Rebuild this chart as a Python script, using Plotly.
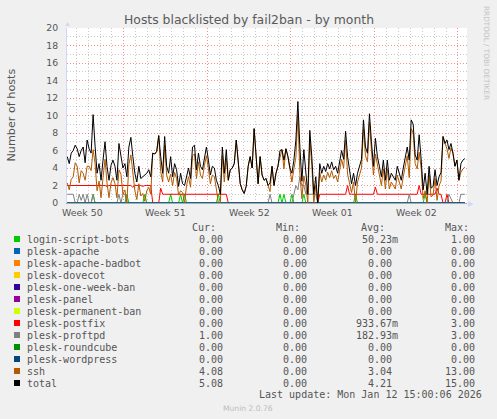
import pandas as pd
import plotly.graph_objects as go

# munin "by month" view of the fail2ban plugin, one sample every 4 hours
start = "2025-12-10 06:00"
step = "4h"

login_script_bots = [
    0, 0, 0, 0, 0, 0, 0, 0, 0, 0,
    0, 0, 0, 1, 0, 0, 0, 0, 0, 0,
    0, 0, 0, 0, 0, 0, 0, 0, 0, 0,
    1, 0, 0, 0, 0, 0, 0, 0, 0, 1,
    0, 0, 0, 0, 0, 0, 0, 0, 0, 0,
    0, 0, 1, 0, 0, 0, 0, 1, 0, 1,
    0, 0, 0, 0, 0, 0, 0, 0, 0, 0,
    0, 0, 0, 0, 0, 0, 1, 0, 0, 0,
    0, 0, 0, 0, 0, 0, 0, 0, 0, 0,
    0, 0, 0, 0, 0, 0, 0, 0, 0, 0,
    0, 0, 0, 0, 0, 0, 0, 1, 0, 1,
    0, 0, 0, 1, 0, 0, 0, 0, 0, 1,
    0, 0, 0, 0, 0, 0, 0, 0, 0, 0,
    0, 0, 0, 0, 0, 0, 0, 0, 0, 0,
    0, 0, 0, 0, 0, 1, 0, 0, 0, 0,
    0, 0, 0, 0, 0, 0, 0, 0, 0, 0,
    0, 0, 0, 0, 0, 0, 0, 0, 0, 0,
    0, 0, 0, 0, 0, 0, 0, 0, 0, 0,
    1, 0, 0, 0, 0, 0, 0, 0, 0, 0,
    0, 0, 0, 0, 0, 0, 0, 0, 0, 0,
    0,
]

plesk_postfix = [
    2, 2, 2, 2, 2, 2, 2, 2, 2, 2,
    2, 2, 2, 2, 2, 2, 2, 2, 2, 2,
    1.9, 2, 2, 2, 2, 2, 2, 2, 2, 2,
    2, 2, 2, 1.8, 2, 2, 2, 2, 1.9, 2,
    2, 2, 2, 0, 0, 0, 0, 1.7, 1, 1,
    1, 1, 1, 1, 1, 1, 1, 1, 1, 1,
    1, 1, 1, 1, 1, 1, 1, 1, 1, 1,
    1, 1, 1, 1, 1, 1, 1, 1, 1, 1,
    1, 0, 0, 0, 0, 0, 0, 0, 0, 0,
    0, 0, 0, 0, 0, 0, 0, 0, 0, 0,
    0, 0, 0, 0, 0, 0, 0, 0, 0, 0,
    0, 0, 0, 0, 0, 0, 0, 0, 0, 0,
    0, 0, 0, 0, 0, 0, 0, 1, 1, 1,
    1, 1, 1, 1, 1, 1, 1, 1, 1, 1,
    1, 2, 1, 1, 1, 1, 1, 1, 1, 1,
    1, 1, 1, 1, 1, 1.8, 1, 1, 1, 1,
    1, 1, 1, 1, 1, 1, 1, 1, 1, 1,
    1, 1, 1, 1, 1, 1, 1, 2, 1, 1,
    1, 1, 1, 1, 1, 1, 1.7, 1, 1, 0,
    0, 1, 0, 0, 0, 0, 0, 0, 0, 0,
    0,
]

plesk_proftpd = [
    1, 1, 1, 1, 0, 0, 1, 0.3, 1, 0,
    1, 0, 0, 1, 0, 0, 0, 0, 0, 0,
    0, 0, 0, 0, 0, 0, 1, 0, 1, 1,
    0, 0, 0, 0, 0, 0, 0, 0, 0, 0,
    0, 0, 0, 0, 0, 0, 0, 0, 0, 0,
    0, 0, 0, 0, 0, 0, 0, 0, 0, 0,
    0, 0, 0, 0, 0, 0, 0, 0, 0, 0,
    0, 0, 0, 0, 0, 0, 0, 0, 0, 0,
    0, 0, 0, 0, 0, 0, 0, 0, 0, 0,
    0, 0, 0, 0, 0, 0, 0, 0, 0, 0,
    0, 0, 1, 0, 0, 0, 0, 0, 0, 0,
    0, 0, 0, 0, 1, 2, 1.5, 3, 2, 2,
    1, 1, 1, 1, 1, 1, 0, 0, 0, 0,
    0, 0, 0, 0, 0, 0, 0, 0, 0, 0,
    0, 0, 0, 0, 0, 0, 0, 0, 0, 0,
    0, 0, 0, 0, 0, 0, 0, 0, 0, 0,
    0, 0, 0, 0, 0, 0, 0, 0, 0, 0,
    0, 0, 1, 0, 0, 0, 0, 0, 0, 0,
    0, 0, 0, 0, 0, 0, 0, 0, 0, 0,
    0, 0, 1, 0.5, 0, 0, 0, 0, 1, 1,
    1,
]

ssh = [
    2.3, 1.5, 2.7, 3.0, 4.6, 4.2, 2.3, 3.7, 3.4, 2.6,
    4.2, 4.2, 3.7, 6.1, 4.5, 1.4, 2.5, 0.6, 2.9, 5.0,
    2.3, 0.6, 2.3, 2.9, 2.2, 0.6, 3.8, 3.3, 1.0, 1.5,
    0.0, 4.4, 5.5, 3.5, 1.4, 0.4, 2.2, 0.8, 1.1, 0.2,
    1.4, 1.8, 1.0, 5.7, 5.6, 5.9, 7.7, 3.6, 2.4, 6.6,
    3.2, 2.4, 3.3, 2.0, 3.5, 2.8, 0.9, 1.4, 1.2, 0.0,
    2.0, 3.0, 1.8, 5.4, 5.6, 2.8, 4.7, 3.2, 2.8, 4.3,
    5.4, 3.9, 2.2, 3.2, 3.0, 1.6, 0.0, 0.0, 5.4, 2.4,
    5.1, 2.6, 3.8, 4.0, 4.5, 7.2, 4.2, 2.2, 1.5, 1.1,
    1.9, 4.2, 5.3, 4.0, 8.5, 5.3, 2.2, 5.3, 3.2, 2.6,
    2.8, 2.0, 1.3, 4.2, 2.0, 3.4, 4.2, 5.0, 6.1, 3.9,
    6.2, 5.3, 4.0, 2.4, 3.9, 5.2, 10.1, 3.4, 0.5, 3.1,
    2.0, 0.0, 7.3, 4.3, 0.0, 2.0, 0.0, 3.5, 2.4, 3.2,
    2.6, 3.5, 2.9, 3.7, 2.8, 3.2, 2.4, 3.9, 5.0, 4.0,
    7.2, 3.3, 2.4, 1.2, 2.4, 0.0, 2.4, 3.2, 4.0, 8.5,
    5.4, 4.7, 9.2, 6.0, 3.2, 5.6, 4.3, 3.2, 2.0, 3.9,
    1.6, 3.9, 1.6, 2.4, 2.0, 1.6, 3.2, 2.4, 1.6, 3.0,
    4.3, 5.4, 2.9, 8.5, 8.0, 4.5, 3.9, 5.8, 4.0, 0.5,
    1.4, 0.0, 3.2, 0.7, 0.9, 2.8, 0.3, 2.0, 2.5, 7.6,
    6.8, 6.2, 5.1, 6.3, 5.7, 4.2, 4.9, 2.6, 3.5, 3.9,
    4.08,
]

total = [
    5.3, 4.5, 5.7, 6.0, 6.6, 6.2, 5.3, 6.0, 6.4, 4.6,
    7.2, 6.2, 5.7, 10.1, 6.5, 3.4, 4.5, 2.6, 4.9, 7.0,
    4.2, 2.6, 4.3, 4.9, 4.2, 2.6, 6.8, 5.3, 4.0, 4.5,
    3.0, 6.4, 7.5, 5.3, 3.4, 2.4, 4.2, 2.8, 3.0, 3.2,
    3.4, 3.8, 3.0, 5.7, 5.6, 5.9, 7.7, 5.3, 3.4, 7.6,
    4.2, 3.4, 5.3, 3.0, 4.5, 3.8, 1.9, 3.4, 2.2, 2.0,
    3.0, 4.0, 2.8, 6.4, 6.6, 3.8, 5.7, 4.2, 3.8, 5.3,
    6.4, 4.9, 3.2, 4.2, 4.0, 2.6, 2.0, 1.0, 6.4, 3.4,
    6.1, 2.6, 3.8, 4.0, 4.5, 7.2, 4.2, 2.2, 1.5, 1.1,
    1.9, 4.2, 5.3, 4.0, 8.5, 5.3, 2.2, 5.3, 3.2, 2.6,
    2.8, 2.0, 2.3, 4.2, 2.0, 3.4, 4.2, 6.0, 6.1, 4.9,
    6.2, 5.3, 4.0, 3.4, 4.9, 7.2, 11.6, 6.4, 2.5, 6.1,
    3.0, 1.0, 8.3, 5.3, 1.0, 3.0, 0.0, 4.5, 3.4, 4.2,
    3.6, 4.5, 3.9, 4.7, 3.8, 4.2, 3.4, 4.9, 6.0, 5.0,
    8.2, 5.3, 3.4, 2.2, 3.4, 2.0, 3.4, 4.2, 5.0, 9.5,
    6.4, 5.7, 10.2, 7.0, 4.2, 7.4, 5.3, 4.2, 3.0, 4.9,
    2.6, 4.9, 2.6, 3.4, 3.0, 2.6, 4.2, 3.4, 2.6, 4.0,
    5.3, 6.4, 4.9, 9.5, 9.0, 5.5, 4.9, 7.8, 5.0, 1.5,
    3.4, 1.0, 4.2, 1.7, 1.9, 3.8, 2.0, 3.0, 3.5, 7.6,
    6.8, 7.2, 6.1, 6.8, 5.7, 4.2, 4.9, 2.6, 4.5, 4.9,
    5.08,
]

# jails that banned nobody this month
never_banned = [0.0] * len(total)

names = ["login-script-bots", "plesk-apache", "plesk-apache-badbot", "plesk-dovecot",
         "plesk-one-week-ban", "plesk-panel", "plesk-permanent-ban", "plesk-postfix",
         "plesk-proftpd", "plesk-roundcube", "plesk-wordpress", "ssh", "total"]
colors = ["#00CC00", "#0066B3", "#FF8000", "#FFCC00", "#330099", "#990099", "#CCFF00",
          "#FF0000", "#808080", "#008F00", "#00487D", "#B35A00", "#000000"]
values = [login_script_bots, never_banned, never_banned, never_banned, never_banned,
          never_banned, never_banned, plesk_postfix, plesk_proftpd, never_banned,
          never_banned, ssh, total]

cur = ["0.00", "0.00", "0.00", "0.00", "0.00", "0.00", "0.00", "0.00", "1.00", "0.00", "0.00", "4.08", "5.08"]
mins = ["0.00"] * 13
avgs = ["50.23m", "0.00", "0.00", "0.00", "0.00", "0.00", "0.00", "933.67m", "182.93m", "0.00", "0.00", "3.04", "4.21"]
maxs = ["1.00", "0.00", "0.00", "0.00", "0.00", "0.00", "0.00", "3.00", "3.00", "0.00", "0.00", "13.00", "15.00"]

week_labels = ["Week 50", "Week 51", "Week 52", "Week 01", "Week 02"]
week_starts = ["2025-12-08", "2025-12-15", "2025-12-22", "2025-12-29", "2026-01-05"]

x_range = ["2025-12-10 05:30", "2026-01-12 18:15"]
last_update = "Last update: Mon Jan 12 15:00:06 2026"

# canvas geometry (pixels) -> paper coords
W, H = 497, 419
L, T, PW, PH = 67, 28, 400, 175


def px(x):
    return (x - L) / PW


def py(y):
    return (T + PH - y) / PH


times = pd.date_range(start, periods=len(total), freq=step)

fig = go.Figure()
for name, color, vals in zip(names, colors, values):
    fig.add_trace(go.Scatter(x=times, y=vals, mode="lines", name=name,
                             line=dict(color=color, width=1), showlegend=False,
                             hoverinfo="skip"))

grey = "#555555"
mono = "DejaVu Sans Mono"
sans = "DejaVu Sans"
ann = []

# title and axis title
ann.append(dict(text="Hosts blacklisted by fail2ban - by month", x=px(248.5), y=py(19),
                font=dict(family=sans, size=12.4, color="#5a5a5a")))
ann.append(dict(text="Number of hosts", x=px(10.5), y=py(115), textangle=-90,
                font=dict(family=sans, size=11.2, color=grey)))
ann.append(dict(text="RRDTOOL / TOBI OETIKER", x=px(487), y=py(53), textangle=90,
                font=dict(family=sans, size=7.3, color="#c4c4c4")))

# axis arrows
ann.append(dict(text="▲", x=px(67), y=py(24), font=dict(size=7, color="#CFD6F8")))
ann.append(dict(text="▶", x=px(471), y=py(203), font=dict(size=7, color="#CFD6F8")))

# week labels sit in the middle of each week, like rrdtool does
for lab, ws in zip(week_labels, week_starts):
    mid = pd.Timestamp(ws) + pd.Timedelta(hours=84)
    ann.append(dict(text=lab, x=mid, xref="x", y=py(212), yref="paper",
                    font=dict(family=sans, size=9.4, color=grey)))

# legend table
for head, right in zip(["Cur:", "Min:", "Avg:", "Max:"], [217, 301, 386, 470]):
    ann.append(dict(text=head, x=px(right), y=py(227), xanchor="right",
                    font=dict(family=mono, size=10, color=grey)))

shapes = []
for k, name in enumerate(names):
    yc = 239 + 12 * k
    shapes.append(dict(type="rect", xref="paper", yref="paper",
                       x0=px(14), x1=px(20), y0=py(yc + 3), y1=py(yc - 3),
                       fillcolor=colors[k], line=dict(width=0)))
    ann.append(dict(text=name, x=px(26), y=py(yc), xanchor="left",
                    font=dict(family=mono, size=10, color=grey)))
    ann.append(dict(text=cur[k], x=px(224), y=py(yc), xanchor="right",
                    font=dict(family=mono, size=10, color=grey)))
    ann.append(dict(text=mins[k], x=px(308), y=py(yc), xanchor="right",
                    font=dict(family=mono, size=10, color=grey)))
    avg_right = 399 if avgs[k].endswith("m") else 393
    ann.append(dict(text=avgs[k], x=px(avg_right), y=py(yc), xanchor="right",
                    font=dict(family=mono, size=10, color=grey)))
    ann.append(dict(text=maxs[k], x=px(476), y=py(yc), xanchor="right",
                    font=dict(family=mono, size=10, color=grey)))

ann.append(dict(text=last_update, x=px(483), y=py(395), xanchor="right",
                font=dict(family=mono, size=10, color=grey)))
ann.append(dict(text="Munin 2.0.76", x=px(248), y=py(408),
                font=dict(family=sans, size=7.6, color="#bdbdbd")))

for a in ann:
    a.setdefault("xref", "paper")
    a.setdefault("yref", "paper")
    a.setdefault("showarrow", False)
    a.setdefault("xanchor", "center")
    a.setdefault("yanchor", "middle")
    a["borderpad"] = 0

fig.update_layout(
    width=W, height=H,
    margin=dict(l=L, r=W - L - PW, t=T, b=H - T - PH, pad=0),
    paper_bgcolor="#F0F0F0",
    plot_bgcolor="#FFFFFF",
    showlegend=False,
    annotations=ann,
    shapes=shapes,
    xaxis=dict(
        type="date", range=x_range, fixedrange=True,
        tickmode="linear", tick0="2025-12-08", dtick=7 * 86400000,
        showticklabels=False, ticks="",
        showgrid=True, gridcolor="rgba(255,0,0,0.45)", gridwidth=1, griddash="1px,2px",
        minor=dict(dtick=86400000, tick0="2025-12-08", showgrid=True,
                   gridcolor="rgba(140,140,140,0.45)", gridwidth=1, griddash="1px,2px"),
        showline=True, linecolor="#9aa8e0", linewidth=1, zeroline=False,
    ),
    yaxis=dict(
        range=[0, 20], fixedrange=True,
        tickmode="linear", tick0=0, dtick=2,
        tickfont=dict(family=sans, size=9.3, color=grey),
        ticks="", ticklabelstandoff=6,
        showgrid=True, gridcolor="rgba(255,0,0,0.45)", gridwidth=1, griddash="1px,2px",
        minor=dict(dtick=1, showgrid=True, gridcolor="rgba(140,140,140,0.45)",
                   gridwidth=1, griddash="1px,2px"),
        showline=True, linecolor="#CFD6F8", linewidth=1, zeroline=False,
    ),
)

# the page has a default 8px body margin; drop it so the canvas sits at 0,0
fig.write_html("out.html", config={"staticPlot": True},
               post_script="document.body.style.margin='0px';")
